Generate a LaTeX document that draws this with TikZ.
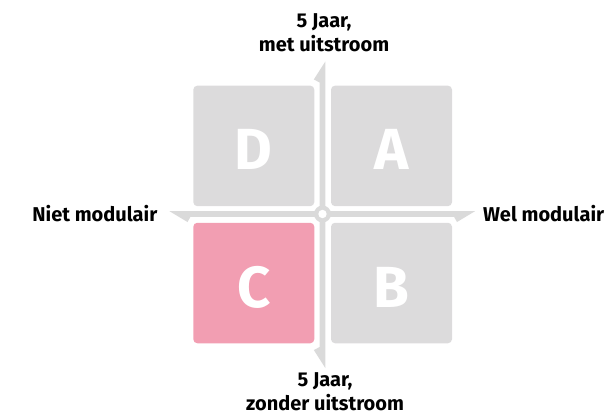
\documentclass[tikz,border=0pt]{standalone}
\usepackage{fontspec}
\setmainfont{Fira Sans}
\definecolor{boxgrey}{RGB}{220,219,220}
\definecolor{axisgrey}{RGB}{218,218,218}
\definecolor{boxpink}{RGB}{242,158,178}
\tikzset{
  quad/.style={rounded corners=4pt, minimum width=121pt, minimum height=120.5pt, inner sep=0pt,
    text=white, font=\bfseries\fontsize{58}{58}\selectfont, text height=48pt, text depth=0pt},
  axislabel/.style={inner sep=0pt, align=center, font=\bfseries\fontsize{20}{24}\selectfont},
  axisfill/.style={fill=axisgrey, draw=none}
}
\begin{document}
\begin{tikzpicture}[x=1pt,y=-1pt]
\useasboundingbox (0,0) rectangle (606,416);
% quadrants
\node[quad, fill=boxgrey] (D) at (253.8,145.9) {D};
\node[quad, fill=boxgrey] (A) at (391.5,145.9) {A};
\node[quad, fill=boxpink] (C) at (253.8,283) {C};
\node[quad, fill=boxgrey] (B) at (391.5,283) {B};
% vertical axis (harpoons)
\fill[axisfill] (325.3,61.5) -- (313.8,79.5) -- (319.7,82.5) -- (319.7,347) -- (313.8,350) -- (325.3,368) -- cycle;
% horizontal axis (harpoons)
\fill[axisfill] (169.5,211.2) -- (187.5,222) -- (190.5,216.8) -- (454,216.8) -- (457,222) -- (475,211.2) -- cycle;
% centre
\coordinate (O) at (322.5,214);
\fill[axisgrey] (O) circle[radius=8.5pt];
\fill[white] (O) circle[radius=4.2pt];
% labels
\node[axislabel, anchor=north] (top) at (324,13.5) {5 Jaar,\\met uitstroom};
\node[axislabel, anchor=north, font=\bfseries\fontsize{20}{23.5}\selectfont] (bottom) at (325,372.5) {5 Jaar,\\zonder uitstroom};
\node[axislabel, anchor=base east] (left) at (157.5,221) {Niet modulair};
\node[axislabel, anchor=base west] (right) at (483,221) {Wel modulair};
\end{tikzpicture}
\end{document}
